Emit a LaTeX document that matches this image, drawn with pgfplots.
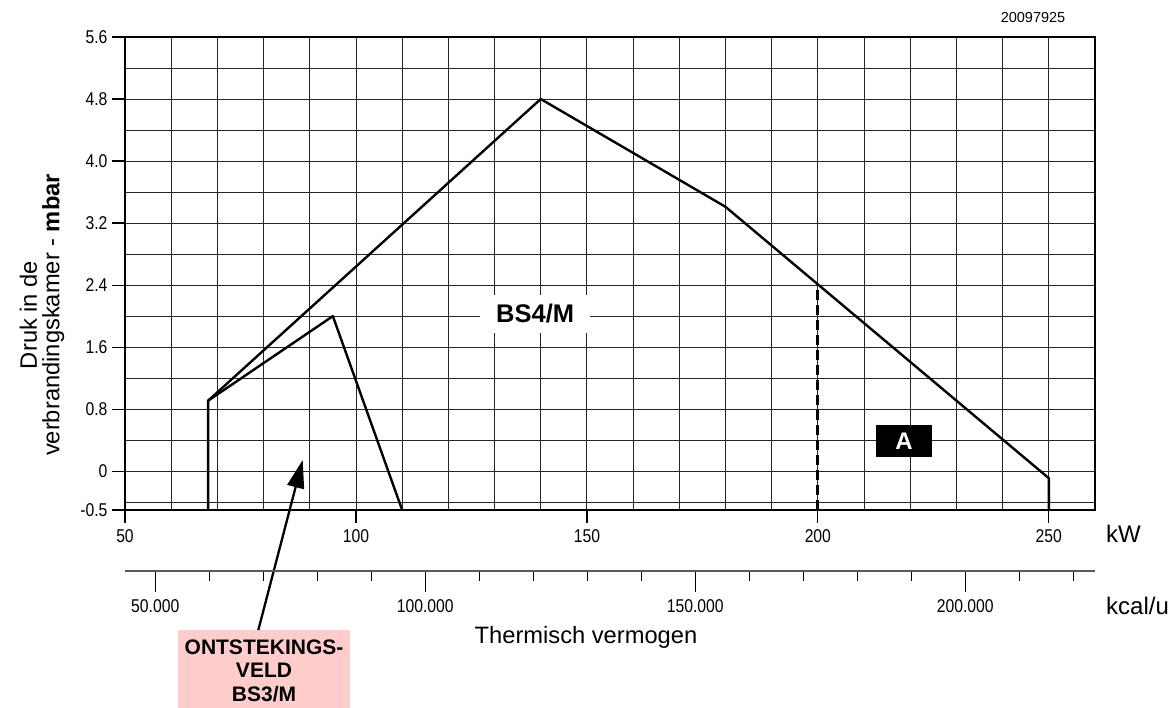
\documentclass[border=0pt]{standalone}
\usepackage{fontspec}
\setmainfont{Liberation Sans}
\newfontfamily\narrowfont[FakeStretch=0.85]{Liberation Sans}
\usepackage{pgfplots}
\pgfplotsset{compat=1.18}
\usetikzlibrary{arrows.meta}
\newcommand{\tickfont}{\narrowfont\fontsize{18.5bp}{20bp}\selectfont}
\newcommand{\labfont}{\fontsize{23.7bp}{22.5bp}\selectfont}
\begin{document}
\begin{tikzpicture}[x=1bp,y=1bp]
\path[use as bounding box] (0,0) rectangle (1175,708);
% pink box
\fill[red!20] (178,0) rectangle (350,78);
\begin{axis}[
  at={(125bp,198bp)}, anchor=south west,
  width=970bp, height=473bp, scale only axis,
  xmin=50, xmax=260, ymin=-0.5, ymax=5.6,
  xtick={50,100,150,200,250}, xticklabels={50,100,150,200,250},
  ytick={-0.5,0,0.8,1.6,2.4,3.2,4.0,4.8,5.6},
  yticklabels={-0.5,0,0.8,1.6,2.4,3.2,4.0,4.8,5.6},
  minor xtick={60,70,80,90,100,110,120,130,140,150,160,170,180,190,200,210,220,230,240,250},
  minor ytick={-0.4,0,0.4,0.8,1.2,1.6,2.0,2.4,2.8,3.2,3.6,4.0,4.4,4.8,5.2},
  xminorgrids, yminorgrids,
  minor grid style={black!85, line width=0.9bp},
  minor tick length=0pt, major tick length=13bp,
  tick align=outside, tick pos=left,
  axis line style={line width=1.3bp},
  major tick style={line width=1.2bp, black},
  /pgf/number format/assume math mode=true,
  tick label style={font=\tickfont},
  xticklabel style={yshift=-3bp},
  yticklabel style={xshift=-1bp},
  clip=false,
]
\addplot[black, line width=2.4bp, line join=round] coordinates {(68,-0.5) (68,0.91) (140,4.8) (180,3.41) (250,-0.09) (250,-0.5)};
\addplot[black, line width=2.4bp, line join=round] coordinates {(68,0.91) (95,2.0) (110,-0.5)};
\addplot[black, line width=2.8bp, dash pattern=on 10bp off 5bp] coordinates {(200,-0.5) (200,2.41)};
\node[fill=white, minimum width=110bp, minimum height=38bp, inner sep=0pt, font=\bfseries\fontsize{25.5bp}{26bp}\selectfont] at (axis cs:138.8,2.03) {BS4/M};
\node[fill=black, text=white, minimum width=56bp, minimum height=32bp, inner sep=0pt, font=\bfseries\fontsize{24bp}{26bp}\selectfont] at (axis cs:218.65,0.39) {A};
\draw[line width=2.3bp, -{Triangle[length=28bp,width=17bp]}] (axis cs:78.86,-2.048) -- (axis cs:88.47,0.145);
\end{axis}
\begin{axis}[
  at={(125bp,137bp)}, anchor=south west,
  width=970bp, height=10bp, scale only axis,
  xmin=44390, xmax=224020, ymin=0, ymax=1,
  axis y line=none, axis x line=bottom,
  x axis line style={-, black!65, line width=1.3bp},
  xtick={50000,100000,150000,200000},
  xticklabels={50.000,100.000,150.000,200.000},
  minor xtick={60000,70000,80000,90000,110000,120000,130000,140000,160000,170000,180000,190000,210000,220000},
  tick align=outside, major tick length=21bp, minor tick length=10bp,
  major tick style={line width=1.2bp, black},
  minor tick style={line width=1.2bp, black},
  scaled x ticks=false,
  /pgf/number format/assume math mode=true,
  tick label style={font=\tickfont},
  xticklabel style={yshift=-4bp},
]
\addplot[draw=none] coordinates {(50000,0)};
\end{axis}
% texts
\node[font=\fontsize{14.5bp}{16bp}\selectfont] at (1033,690) {20097925};
\node[anchor=west, font=\fontsize{24bp}{26bp}\selectfont, inner sep=0pt] at (1106,174) {kW};
\node[anchor=west, font=\fontsize{24bp}{26bp}\selectfont, inner sep=0pt] at (1106,102) {kcal/u};
\node[font=\labfont] at (586,71) {Thermisch vermogen};
\node[rotate=90, align=center, font=\labfont] at (42,393) {Druk in de\\verbrandingskamer - \textbf{mbar}};
\node[anchor=base, font=\bfseries\fontsize{21bp}{24bp}\selectfont, inner sep=0pt] at (264,53) {ONTSTEKINGS-};
\node[anchor=base, font=\bfseries\fontsize{21bp}{24bp}\selectfont, inner sep=0pt] at (264,30) {VELD};
\node[anchor=base, font=\bfseries\fontsize{21bp}{24bp}\selectfont, inner sep=0pt] at (264,6.5) {BS3/M};
\end{tikzpicture}
\end{document}
